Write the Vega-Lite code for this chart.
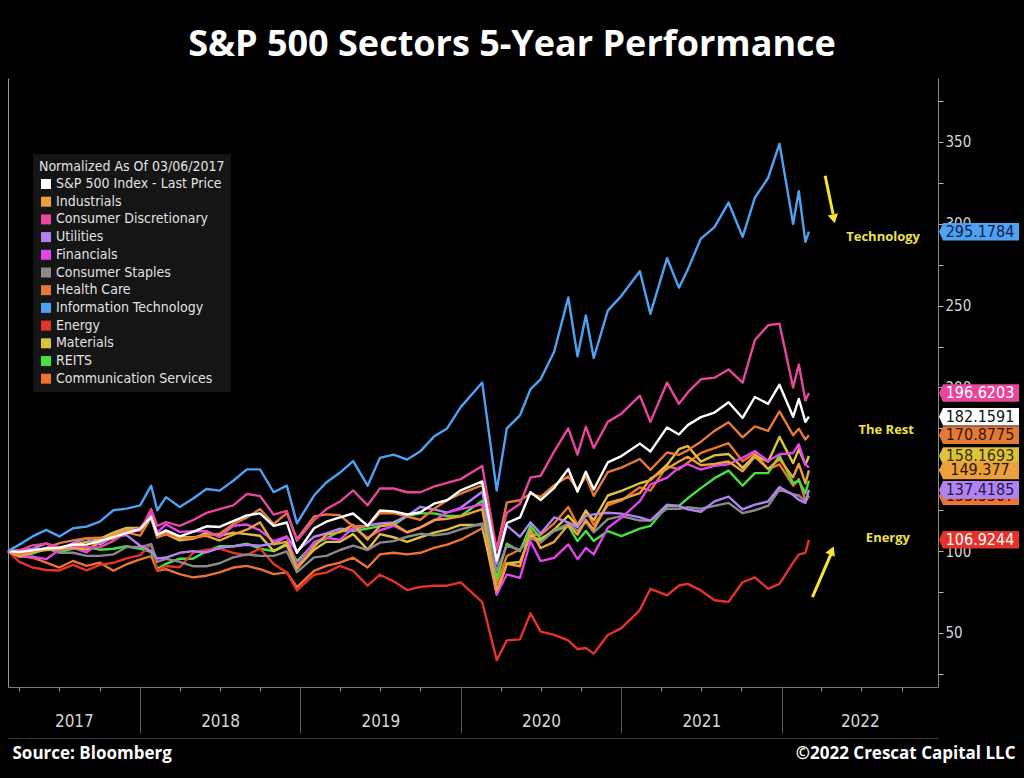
{
"$schema": "https://vega.github.io/schema/vega-lite/v6.json",
"width": 930, "height": 609,
"autosize": {"type": "none"},
"padding": {"left": 8, "top": 78, "right": 86, "bottom": 91},
"background": "#000000",
"title": {"text": "S&P 500 Sectors 5-Year Performance", "font": "Open Sans", "fontWeight": "bold", "fontSize": 36, "color": "#ffffff", "anchor": "middle", "frame": "group", "dx": 39, "dy": 35, "offset": 21, "baseline": "alphabetic"},
"config": {
 "view": {"stroke": null},
 "axis": {"grid": false},
 "legend": {"labelFont": "DejaVu Sans Condensed, Liberation Sans, sans-serif", "labelFontSize": 14, "labelColor": "#e2e2e2", "titleFont": "DejaVu Sans Condensed, Liberation Sans, sans-serif", "titleFontSize": 14, "titleFontWeight": "normal", "titleColor": "#e2e2e2", "fillColor": "#151515", "padding": 6, "rowPadding": 3.7, "symbolSize": 100, "symbolType": "square", "symbolStrokeWidth": 0, "labelLimit": 300, "titleLimit": 400, "titlePadding": 3, "labelOffset": 3}
},
"datasets": {
 "names": [{"k":"SPX","name":"S&P 500 Index - Last Price"},{"k":"IND","name":"Industrials"},{"k":"CD","name":"Consumer Discretionary"},{"k":"UTL","name":"Utilities"},{"k":"FIN","name":"Financials"},{"k":"CS","name":"Consumer Staples"},{"k":"HC","name":"Health Care"},{"k":"IT","name":"Information Technology"},{"k":"EN","name":"Energy"},{"k":"MAT","name":"Materials"},{"k":"RE","name":"REITS"},{"k":"CM","name":"Communication Services"}],
 "tags": [
  {"name":"Health Care","v":170.8775,"label":"170.8775"},
  {"name":"Materials","v":158.1693,"label":"158.1693"},
  {"name":"Communication Services","v":133.5307,"label":"133.5307"},
  {"name":"S&P 500 Index - Last Price","v":182.1591,"label":"182.1591"},
  {"name":"Industrials","v":149.377,"label":"149.377"},
  {"name":"Utilities","v":137.4185,"label":"137.4185"},
  {"name":"Consumer Discretionary","v":196.6203,"label":"196.6203"},
  {"name":"Information Technology","v":295.1784,"label":"295.1784"},
  {"name":"Energy","v":106.9244,"label":"106.9244"}
 ],
 "notes": [{"d":"2022-08-20","v":292,"t":"Technology"},{"d":"2022-08-27","v":174,"t":"The Rest"},{"d":"2022-08-31","v":108,"t":"Energy"}],
 "arrows": [{"d":"2022-04-10","v":329.4,"d2":"2022-04-28","v2":306},{"d":"2022-03-12","v":71.9,"d2":"2022-04-23","v2":98}],
 "head1": [{"d":"2022-04-29","v":304}],
 "head2": [{"d":"2022-04-24","v":99.5}],
 "series": [
{"d":"2017-03-06","k":"CM","v":100},{"d":"2017-04-01","k":"CM","v":97},{"d":"2017-05-01","k":"CM","v":96},{"d":"2017-06-01","k":"CM","v":93},{"d":"2017-07-01","k":"CM","v":90},{"d":"2017-08-01","k":"CM","v":94},{"d":"2017-09-01","k":"CM","v":91},{"d":"2017-10-01","k":"CM","v":93},{"d":"2017-11-01","k":"CM","v":88},{"d":"2017-12-01","k":"CM","v":92},
{"d":"2018-01-01","k":"CM","v":95},{"d":"2018-01-26","k":"CM","v":97},{"d":"2018-02-09","k":"CM","v":88},{"d":"2018-03-01","k":"CM","v":89},{"d":"2018-04-01","k":"CM","v":86},{"d":"2018-05-01","k":"CM","v":84},{"d":"2018-06-01","k":"CM","v":85},{"d":"2018-07-01","k":"CM","v":87},{"d":"2018-08-01","k":"CM","v":90},{"d":"2018-09-01","k":"CM","v":91},{"d":"2018-10-01","k":"CM","v":89},{"d":"2018-11-01","k":"CM","v":86},{"d":"2018-12-01","k":"CM","v":87},{"d":"2018-12-24","k":"CM","v":78},
{"d":"2019-02-01","k":"CM","v":88},{"d":"2019-03-01","k":"CM","v":91},{"d":"2019-04-01","k":"CM","v":93},{"d":"2019-05-01","k":"CM","v":96},{"d":"2019-06-03","k":"CM","v":90},{"d":"2019-07-01","k":"CM","v":98},{"d":"2019-08-01","k":"CM","v":99},{"d":"2019-09-01","k":"CM","v":98},{"d":"2019-10-01","k":"CM","v":99},{"d":"2019-11-01","k":"CM","v":102},{"d":"2019-12-01","k":"CM","v":104},
{"d":"2020-01-01","k":"CM","v":107},{"d":"2020-02-19","k":"CM","v":114},{"d":"2020-03-23","k":"CM","v":80},{"d":"2020-04-15","k":"CM","v":97},{"d":"2020-05-15","k":"CM","v":101},{"d":"2020-06-08","k":"CM","v":110},{"d":"2020-07-01","k":"CM","v":110},{"d":"2020-08-01","k":"CM","v":117},{"d":"2020-09-02","k":"CM","v":127},{"d":"2020-09-23","k":"CM","v":116},{"d":"2020-10-12","k":"CM","v":125},{"d":"2020-10-30","k":"CM","v":116},{"d":"2020-12-01","k":"CM","v":128},
{"d":"2021-01-01","k":"CM","v":131},{"d":"2021-02-12","k":"CM","v":139},{"d":"2021-03-08","k":"CM","v":137},{"d":"2021-04-15","k":"CM","v":152},{"d":"2021-05-12","k":"CM","v":150},{"d":"2021-06-01","k":"CM","v":154},{"d":"2021-07-01","k":"CM","v":160},{"d":"2021-08-01","k":"CM","v":163},{"d":"2021-09-02","k":"CM","v":166},{"d":"2021-10-04","k":"CM","v":155},{"d":"2021-11-01","k":"CM","v":160},{"d":"2021-12-01","k":"CM","v":150},{"d":"2021-12-27","k":"CM","v":153},
{"d":"2022-01-27","k":"CM","v":140},{"d":"2022-02-09","k":"CM","v":144},{"d":"2022-02-24","k":"CM","v":131},{"d":"2022-03-04","k":"CM","v":133.53},

{"d":"2017-03-06","k":"RE","v":100},{"d":"2017-04-01","k":"RE","v":97},{"d":"2017-05-01","k":"RE","v":98.5},{"d":"2017-06-01","k":"RE","v":101.5},{"d":"2017-07-01","k":"RE","v":99.4},{"d":"2017-08-01","k":"RE","v":101.5},{"d":"2017-09-01","k":"RE","v":102.5},{"d":"2017-10-01","k":"RE","v":100.9},{"d":"2017-11-01","k":"RE","v":101.5},{"d":"2017-12-01","k":"RE","v":103},
{"d":"2018-01-01","k":"RE","v":101.5},{"d":"2018-01-26","k":"RE","v":99.4},{"d":"2018-02-09","k":"RE","v":89.2},{"d":"2018-03-01","k":"RE","v":92.3},{"d":"2018-04-01","k":"RE","v":95.4},{"d":"2018-05-01","k":"RE","v":95.4},{"d":"2018-06-01","k":"RE","v":100},{"d":"2018-07-01","k":"RE","v":103},{"d":"2018-08-01","k":"RE","v":103},{"d":"2018-09-01","k":"RE","v":104.6},{"d":"2018-10-01","k":"RE","v":101.5},{"d":"2018-11-01","k":"RE","v":100},{"d":"2018-12-01","k":"RE","v":104.6},{"d":"2018-12-24","k":"RE","v":93.8},
{"d":"2019-02-01","k":"RE","v":104.6},{"d":"2019-03-01","k":"RE","v":107.7},{"d":"2019-04-01","k":"RE","v":112.3},{"d":"2019-05-01","k":"RE","v":112.3},{"d":"2019-06-03","k":"RE","v":113.8},{"d":"2019-07-01","k":"RE","v":115.4},{"d":"2019-08-01","k":"RE","v":116},{"d":"2019-09-01","k":"RE","v":121.5},{"d":"2019-10-01","k":"RE","v":123.1},{"d":"2019-11-01","k":"RE","v":123.1},{"d":"2019-12-01","k":"RE","v":121.5},
{"d":"2020-01-01","k":"RE","v":121.5},{"d":"2020-02-19","k":"RE","v":130.8},{"d":"2020-03-23","k":"RE","v":83.1},{"d":"2020-04-15","k":"RE","v":104.6},{"d":"2020-05-15","k":"RE","v":100},{"d":"2020-06-08","k":"RE","v":115.4},{"d":"2020-07-01","k":"RE","v":107.7},{"d":"2020-08-01","k":"RE","v":112.3},{"d":"2020-09-02","k":"RE","v":115.4},{"d":"2020-09-23","k":"RE","v":106.2},{"d":"2020-10-12","k":"RE","v":112.3},{"d":"2020-10-30","k":"RE","v":106.2},{"d":"2020-12-01","k":"RE","v":112.3},
{"d":"2021-01-01","k":"RE","v":109.2},{"d":"2021-02-12","k":"RE","v":113.8},{"d":"2021-03-08","k":"RE","v":115.4},{"d":"2021-04-15","k":"RE","v":127.7},{"d":"2021-05-12","k":"RE","v":127.7},{"d":"2021-06-01","k":"RE","v":132.3},{"d":"2021-07-01","k":"RE","v":138.5},{"d":"2021-08-01","k":"RE","v":144.6},{"d":"2021-09-02","k":"RE","v":149.2},{"d":"2021-10-04","k":"RE","v":140},{"d":"2021-11-01","k":"RE","v":147.7},{"d":"2021-12-01","k":"RE","v":147.7},{"d":"2021-12-27","k":"RE","v":158.5},
{"d":"2022-01-27","k":"RE","v":141.5},{"d":"2022-02-09","k":"RE","v":143},{"d":"2022-02-24","k":"RE","v":135.4},{"d":"2022-03-04","k":"RE","v":143},

{"d":"2017-03-06","k":"MAT","v":100},{"d":"2017-04-01","k":"MAT","v":98.9},{"d":"2017-05-01","k":"MAT","v":100.9},{"d":"2017-06-01","k":"MAT","v":101.3},{"d":"2017-07-01","k":"MAT","v":101.5},{"d":"2017-08-01","k":"MAT","v":103.8},{"d":"2017-09-01","k":"MAT","v":105.7},{"d":"2017-10-01","k":"MAT","v":107.5},{"d":"2017-11-01","k":"MAT","v":111.3},{"d":"2017-12-01","k":"MAT","v":114.2},
{"d":"2018-01-01","k":"MAT","v":114.2},{"d":"2018-01-26","k":"MAT","v":120.8},{"d":"2018-02-09","k":"MAT","v":108.5},{"d":"2018-03-01","k":"MAT","v":110.4},{"d":"2018-04-01","k":"MAT","v":106.6},{"d":"2018-05-01","k":"MAT","v":107.5},{"d":"2018-06-01","k":"MAT","v":111.3},{"d":"2018-07-01","k":"MAT","v":109.4},{"d":"2018-08-01","k":"MAT","v":111.3},{"d":"2018-09-01","k":"MAT","v":110.4},{"d":"2018-10-01","k":"MAT","v":109.4},{"d":"2018-11-01","k":"MAT","v":100},{"d":"2018-12-01","k":"MAT","v":103.8},{"d":"2018-12-24","k":"MAT","v":89.6},
{"d":"2019-02-01","k":"MAT","v":100.9},{"d":"2019-03-01","k":"MAT","v":105.7},{"d":"2019-04-01","k":"MAT","v":105.7},{"d":"2019-05-01","k":"MAT","v":110.4},{"d":"2019-06-03","k":"MAT","v":100.9},{"d":"2019-07-01","k":"MAT","v":110.4},{"d":"2019-08-01","k":"MAT","v":108.5},{"d":"2019-09-01","k":"MAT","v":105.7},{"d":"2019-10-01","k":"MAT","v":108.5},{"d":"2019-11-01","k":"MAT","v":111.3},{"d":"2019-12-01","k":"MAT","v":113.2},
{"d":"2020-01-01","k":"MAT","v":116},{"d":"2020-02-19","k":"MAT","v":116},{"d":"2020-03-23","k":"MAT","v":73.6},{"d":"2020-04-15","k":"MAT","v":92.5},{"d":"2020-05-15","k":"MAT","v":93.4},{"d":"2020-06-08","k":"MAT","v":109.4},{"d":"2020-07-01","k":"MAT","v":106.6},{"d":"2020-08-01","k":"MAT","v":113.2},{"d":"2020-09-02","k":"MAT","v":121.7},{"d":"2020-09-23","k":"MAT","v":115.1},{"d":"2020-10-12","k":"MAT","v":124.5},{"d":"2020-10-30","k":"MAT","v":118.9},{"d":"2020-12-01","k":"MAT","v":134},
{"d":"2021-01-01","k":"MAT","v":136.8},{"d":"2021-02-12","k":"MAT","v":141.5},{"d":"2021-03-08","k":"MAT","v":143.4},{"d":"2021-04-15","k":"MAT","v":152.8},{"d":"2021-05-12","k":"MAT","v":162.3},{"d":"2021-06-01","k":"MAT","v":164.2},{"d":"2021-07-01","k":"MAT","v":154.7},{"d":"2021-08-01","k":"MAT","v":158.5},{"d":"2021-09-02","k":"MAT","v":159.4},{"d":"2021-10-04","k":"MAT","v":150.9},{"d":"2021-11-01","k":"MAT","v":158.5},{"d":"2021-12-01","k":"MAT","v":154.7},{"d":"2021-12-27","k":"MAT","v":169.8},
{"d":"2022-01-27","k":"MAT","v":153.8},{"d":"2022-02-09","k":"MAT","v":162.3},{"d":"2022-02-24","k":"MAT","v":152.8},{"d":"2022-03-04","k":"MAT","v":158.17},

{"d":"2017-03-06","k":"EN","v":100},{"d":"2017-04-01","k":"EN","v":93.5},{"d":"2017-05-01","k":"EN","v":90},{"d":"2017-06-01","k":"EN","v":88.5},{"d":"2017-07-01","k":"EN","v":88.2},{"d":"2017-08-01","k":"EN","v":91.6},{"d":"2017-09-01","k":"EN","v":88.2},{"d":"2017-10-01","k":"EN","v":91.6},{"d":"2017-11-01","k":"EN","v":92.9},{"d":"2017-12-01","k":"EN","v":95.6},
{"d":"2018-01-01","k":"EN","v":97.6},{"d":"2018-01-26","k":"EN","v":104.3},{"d":"2018-02-09","k":"EN","v":88.2},{"d":"2018-03-01","k":"EN","v":90.9},{"d":"2018-04-01","k":"EN","v":90.2},{"d":"2018-05-01","k":"EN","v":98.9},{"d":"2018-06-01","k":"EN","v":100.9},{"d":"2018-07-01","k":"EN","v":101.6},{"d":"2018-08-01","k":"EN","v":98.9},{"d":"2018-09-01","k":"EN","v":97.6},{"d":"2018-10-01","k":"EN","v":101.6},{"d":"2018-11-01","k":"EN","v":92.2},{"d":"2018-12-01","k":"EN","v":86.9},{"d":"2018-12-24","k":"EN","v":76},
{"d":"2019-02-01","k":"EN","v":85.6},{"d":"2019-03-01","k":"EN","v":86.9},{"d":"2019-04-01","k":"EN","v":91},{"d":"2019-05-01","k":"EN","v":88},{"d":"2019-06-03","k":"EN","v":78.9},{"d":"2019-07-01","k":"EN","v":85.6},{"d":"2019-08-01","k":"EN","v":81.6},{"d":"2019-09-01","k":"EN","v":76.2},{"d":"2019-10-01","k":"EN","v":78.2},{"d":"2019-11-01","k":"EN","v":78.9},{"d":"2019-12-01","k":"EN","v":78.9},
{"d":"2020-01-01","k":"EN","v":80.9},{"d":"2020-02-19","k":"EN","v":68.9},{"d":"2020-03-23","k":"EN","v":33.4},{"d":"2020-04-15","k":"EN","v":45.5},{"d":"2020-05-15","k":"EN","v":46.1},{"d":"2020-06-08","k":"EN","v":62},{"d":"2020-07-01","k":"EN","v":50.8},{"d":"2020-08-01","k":"EN","v":48.8},{"d":"2020-09-02","k":"EN","v":45.5},{"d":"2020-09-23","k":"EN","v":40.1},{"d":"2020-10-12","k":"EN","v":40.8},{"d":"2020-10-30","k":"EN","v":37.4},{"d":"2020-12-01","k":"EN","v":48.8},
{"d":"2021-01-01","k":"EN","v":53},{"d":"2021-02-12","k":"EN","v":64},{"d":"2021-03-08","k":"EN","v":77},{"d":"2021-04-15","k":"EN","v":73},{"d":"2021-05-12","k":"EN","v":79},{"d":"2021-06-01","k":"EN","v":80},{"d":"2021-07-01","k":"EN","v":76},{"d":"2021-08-01","k":"EN","v":70},{"d":"2021-09-02","k":"EN","v":69},{"d":"2021-10-04","k":"EN","v":81},{"d":"2021-11-01","k":"EN","v":84},{"d":"2021-12-01","k":"EN","v":77},{"d":"2021-12-27","k":"EN","v":80},
{"d":"2022-01-27","k":"EN","v":93},{"d":"2022-02-09","k":"EN","v":98},{"d":"2022-02-24","k":"EN","v":99},{"d":"2022-03-04","k":"EN","v":106.92},

{"d":"2017-03-06","k":"CS","v":100},{"d":"2017-04-01","k":"CS","v":98.2},{"d":"2017-05-01","k":"CS","v":99.3},{"d":"2017-06-01","k":"CS","v":102},{"d":"2017-07-01","k":"CS","v":99},{"d":"2017-08-01","k":"CS","v":99},{"d":"2017-09-01","k":"CS","v":97.1},{"d":"2017-10-01","k":"CS","v":97.1},{"d":"2017-11-01","k":"CS","v":98},{"d":"2017-12-01","k":"CS","v":102.5},
{"d":"2018-01-01","k":"CS","v":102.5},{"d":"2018-01-26","k":"CS","v":104.3},{"d":"2018-02-09","k":"CS","v":93.5},{"d":"2018-03-01","k":"CS","v":95.3},{"d":"2018-04-01","k":"CS","v":93.5},{"d":"2018-05-01","k":"CS","v":90.8},{"d":"2018-06-01","k":"CS","v":90.8},{"d":"2018-07-01","k":"CS","v":92.6},{"d":"2018-08-01","k":"CS","v":96.2},{"d":"2018-09-01","k":"CS","v":98},{"d":"2018-10-01","k":"CS","v":97.1},{"d":"2018-11-01","k":"CS","v":97.1},{"d":"2018-12-01","k":"CS","v":99.8},{"d":"2018-12-24","k":"CS","v":87.2},
{"d":"2019-02-01","k":"CS","v":96.2},{"d":"2019-03-01","k":"CS","v":97.1},{"d":"2019-04-01","k":"CS","v":100.7},{"d":"2019-05-01","k":"CS","v":103.4},{"d":"2019-06-03","k":"CS","v":100.7},{"d":"2019-07-01","k":"CS","v":105.2},{"d":"2019-08-01","k":"CS","v":106.1},{"d":"2019-09-01","k":"CS","v":108.8},{"d":"2019-10-01","k":"CS","v":110.6},{"d":"2019-11-01","k":"CS","v":109.7},{"d":"2019-12-01","k":"CS","v":110.6},
{"d":"2020-01-01","k":"CS","v":113.3},{"d":"2020-02-19","k":"CS","v":116.9},{"d":"2020-03-23","k":"CS","v":88.1},{"d":"2020-04-15","k":"CS","v":103.4},{"d":"2020-05-15","k":"CS","v":100.7},{"d":"2020-06-08","k":"CS","v":107.9},{"d":"2020-07-01","k":"CS","v":105.2},{"d":"2020-08-01","k":"CS","v":112.4},{"d":"2020-09-02","k":"CS","v":116.9},{"d":"2020-09-23","k":"CS","v":112.4},{"d":"2020-10-12","k":"CS","v":117.8},{"d":"2020-10-30","k":"CS","v":111.5},{"d":"2020-12-01","k":"CS","v":119.6},
{"d":"2021-01-01","k":"CS","v":121.4},{"d":"2021-02-12","k":"CS","v":118.7},{"d":"2021-03-08","k":"CS","v":118.7},{"d":"2021-04-15","k":"CS","v":125.9},{"d":"2021-05-12","k":"CS","v":125.9},{"d":"2021-06-01","k":"CS","v":126.8},{"d":"2021-07-01","k":"CS","v":125.9},{"d":"2021-08-01","k":"CS","v":127.7},{"d":"2021-09-02","k":"CS","v":129.5},{"d":"2021-10-04","k":"CS","v":123.2},{"d":"2021-11-01","k":"CS","v":125},{"d":"2021-12-01","k":"CS","v":127.7},{"d":"2021-12-27","k":"CS","v":137.6},
{"d":"2022-01-27","k":"CS","v":134.9},{"d":"2022-02-09","k":"CS","v":134},{"d":"2022-02-24","k":"CS","v":130.4},{"d":"2022-03-04","k":"CS","v":134},

{"d":"2017-03-06","k":"UTL","v":100},{"d":"2017-04-01","k":"UTL","v":100.6},{"d":"2017-05-01","k":"UTL","v":101.4},{"d":"2017-06-01","k":"UTL","v":104.7},{"d":"2017-07-01","k":"UTL","v":101.4},{"d":"2017-08-01","k":"UTL","v":104.9},{"d":"2017-09-01","k":"UTL","v":107.8},{"d":"2017-10-01","k":"UTL","v":103.9},{"d":"2017-11-01","k":"UTL","v":108.8},{"d":"2017-12-01","k":"UTL","v":109.8},
{"d":"2018-01-01","k":"UTL","v":103.3},{"d":"2018-01-26","k":"UTL","v":100},{"d":"2018-02-09","k":"UTL","v":95.5},{"d":"2018-03-01","k":"UTL","v":96.1},{"d":"2018-04-01","k":"UTL","v":99},{"d":"2018-05-01","k":"UTL","v":100},{"d":"2018-06-01","k":"UTL","v":99.2},{"d":"2018-07-01","k":"UTL","v":102},{"d":"2018-08-01","k":"UTL","v":102.9},{"d":"2018-09-01","k":"UTL","v":103.9},{"d":"2018-10-01","k":"UTL","v":103.3},{"d":"2018-11-01","k":"UTL","v":104.5},{"d":"2018-12-01","k":"UTL","v":108.8},{"d":"2018-12-24","k":"UTL","v":100},
{"d":"2019-02-01","k":"UTL","v":108.8},{"d":"2019-03-01","k":"UTL","v":110.8},{"d":"2019-04-01","k":"UTL","v":113.7},{"d":"2019-05-01","k":"UTL","v":113.1},{"d":"2019-06-03","k":"UTL","v":115.7},{"d":"2019-07-01","k":"UTL","v":116.9},{"d":"2019-08-01","k":"UTL","v":117.6},{"d":"2019-09-01","k":"UTL","v":121.6},{"d":"2019-10-01","k":"UTL","v":127.1},{"d":"2019-11-01","k":"UTL","v":125.5},{"d":"2019-12-01","k":"UTL","v":123.5},
{"d":"2020-01-01","k":"UTL","v":126.5},{"d":"2020-02-19","k":"UTL","v":136.3},{"d":"2020-03-23","k":"UTL","v":92.2},{"d":"2020-04-15","k":"UTL","v":115.7},{"d":"2020-05-15","k":"UTL","v":108.8},{"d":"2020-06-08","k":"UTL","v":117.6},{"d":"2020-07-01","k":"UTL","v":110.8},{"d":"2020-08-01","k":"UTL","v":120.6},{"d":"2020-09-02","k":"UTL","v":117.6},{"d":"2020-09-23","k":"UTL","v":114.7},{"d":"2020-10-12","k":"UTL","v":121.6},{"d":"2020-10-30","k":"UTL","v":122.5},{"d":"2020-12-01","k":"UTL","v":123.5},
{"d":"2021-01-01","k":"UTL","v":122.9},{"d":"2021-02-12","k":"UTL","v":120.6},{"d":"2021-03-08","k":"UTL","v":118.6},{"d":"2021-04-15","k":"UTL","v":128.4},{"d":"2021-05-12","k":"UTL","v":127.5},{"d":"2021-06-01","k":"UTL","v":125.5},{"d":"2021-07-01","k":"UTL","v":124.1},{"d":"2021-08-01","k":"UTL","v":130.4},{"d":"2021-09-02","k":"UTL","v":133.3},{"d":"2021-10-04","k":"UTL","v":125.5},{"d":"2021-11-01","k":"UTL","v":128.4},{"d":"2021-12-01","k":"UTL","v":130.4},{"d":"2021-12-27","k":"UTL","v":139.2},
{"d":"2022-01-27","k":"UTL","v":134.3},{"d":"2022-02-09","k":"UTL","v":131.4},{"d":"2022-02-24","k":"UTL","v":129.4},{"d":"2022-03-04","k":"UTL","v":137.42},

{"d":"2017-03-06","k":"FIN","v":100},{"d":"2017-04-01","k":"FIN","v":96.7},{"d":"2017-05-01","k":"FIN","v":96.7},{"d":"2017-06-01","k":"FIN","v":95.1},{"d":"2017-07-01","k":"FIN","v":100.8},{"d":"2017-08-01","k":"FIN","v":102},{"d":"2017-09-01","k":"FIN","v":99.2},{"d":"2017-10-01","k":"FIN","v":105.7},{"d":"2017-11-01","k":"FIN","v":108.6},{"d":"2017-12-01","k":"FIN","v":112.2},
{"d":"2018-01-01","k":"FIN","v":113.9},{"d":"2018-01-26","k":"FIN","v":123.3},{"d":"2018-02-09","k":"FIN","v":111.4},{"d":"2018-03-01","k":"FIN","v":116.3},{"d":"2018-04-01","k":"FIN","v":111.8},{"d":"2018-05-01","k":"FIN","v":112.2},{"d":"2018-06-01","k":"FIN","v":112.2},{"d":"2018-07-01","k":"FIN","v":108.6},{"d":"2018-08-01","k":"FIN","v":115.5},{"d":"2018-09-01","k":"FIN","v":116.3},{"d":"2018-10-01","k":"FIN","v":112.7},{"d":"2018-11-01","k":"FIN","v":106.1},{"d":"2018-12-01","k":"FIN","v":109},{"d":"2018-12-24","k":"FIN","v":91},
{"d":"2019-02-01","k":"FIN","v":105.7},{"d":"2019-03-01","k":"FIN","v":108.2},{"d":"2019-04-01","k":"FIN","v":106.9},{"d":"2019-05-01","k":"FIN","v":114.3},{"d":"2019-06-03","k":"FIN","v":108.2},{"d":"2019-07-01","k":"FIN","v":112.7},{"d":"2019-08-01","k":"FIN","v":115.5},{"d":"2019-09-01","k":"FIN","v":111.4},{"d":"2019-10-01","k":"FIN","v":114.3},{"d":"2019-11-01","k":"FIN","v":118.4},{"d":"2019-12-01","k":"FIN","v":123.7},
{"d":"2020-01-01","k":"FIN","v":125.7},{"d":"2020-02-19","k":"FIN","v":128.6},{"d":"2020-03-23","k":"FIN","v":73.5},{"d":"2020-04-15","k":"FIN","v":85.7},{"d":"2020-05-15","k":"FIN","v":83.7},{"d":"2020-06-08","k":"FIN","v":106.1},{"d":"2020-07-01","k":"FIN","v":93.9},{"d":"2020-08-01","k":"FIN","v":95.9},{"d":"2020-09-02","k":"FIN","v":104.1},{"d":"2020-09-23","k":"FIN","v":95.1},{"d":"2020-10-12","k":"FIN","v":102},{"d":"2020-10-30","k":"FIN","v":98},{"d":"2020-12-01","k":"FIN","v":114.3},
{"d":"2021-01-01","k":"FIN","v":120.4},{"d":"2021-02-12","k":"FIN","v":130.6},{"d":"2021-03-08","k":"FIN","v":140.8},{"d":"2021-04-15","k":"FIN","v":144.9},{"d":"2021-05-12","k":"FIN","v":151},{"d":"2021-06-01","k":"FIN","v":153.1},{"d":"2021-07-01","k":"FIN","v":149.8},{"d":"2021-08-01","k":"FIN","v":152.2},{"d":"2021-09-02","k":"FIN","v":153.1},{"d":"2021-10-04","k":"FIN","v":157.1},{"d":"2021-11-01","k":"FIN","v":161.2},{"d":"2021-12-01","k":"FIN","v":155.1},{"d":"2021-12-27","k":"FIN","v":159.2},
{"d":"2022-01-27","k":"FIN","v":160},{"d":"2022-02-09","k":"FIN","v":165.3},{"d":"2022-02-24","k":"FIN","v":153.1},{"d":"2022-03-04","k":"FIN","v":151},

{"d":"2017-03-06","k":"IND","v":100},{"d":"2017-04-01","k":"IND","v":96.7},{"d":"2017-05-01","k":"IND","v":99.4},{"d":"2017-06-01","k":"IND","v":100.7},{"d":"2017-07-01","k":"IND","v":101.2},{"d":"2017-08-01","k":"IND","v":102.2},{"d":"2017-09-01","k":"IND","v":100.9},{"d":"2017-10-01","k":"IND","v":105.7},{"d":"2017-11-01","k":"IND","v":110.1},{"d":"2017-12-01","k":"IND","v":113.1},
{"d":"2018-01-01","k":"IND","v":112.6},{"d":"2018-01-26","k":"IND","v":120.2},{"d":"2018-02-09","k":"IND","v":108.6},{"d":"2018-03-01","k":"IND","v":111.6},{"d":"2018-04-01","k":"IND","v":108.6},{"d":"2018-05-01","k":"IND","v":108.6},{"d":"2018-06-01","k":"IND","v":109.4},{"d":"2018-07-01","k":"IND","v":106.5},{"d":"2018-08-01","k":"IND","v":110.1},{"d":"2018-09-01","k":"IND","v":113.1},{"d":"2018-10-01","k":"IND","v":117.6},{"d":"2018-11-01","k":"IND","v":104.2},{"d":"2018-12-01","k":"IND","v":105.7},{"d":"2018-12-24","k":"IND","v":89.3},
{"d":"2019-02-01","k":"IND","v":102.7},{"d":"2019-03-01","k":"IND","v":110.1},{"d":"2019-04-01","k":"IND","v":111.6},{"d":"2019-05-01","k":"IND","v":116.1},{"d":"2019-06-03","k":"IND","v":107.1},{"d":"2019-07-01","k":"IND","v":115.3},{"d":"2019-08-01","k":"IND","v":116.8},{"d":"2019-09-01","k":"IND","v":111.6},{"d":"2019-10-01","k":"IND","v":114.6},{"d":"2019-11-01","k":"IND","v":119},{"d":"2019-12-01","k":"IND","v":119.8},
{"d":"2020-01-01","k":"IND","v":121.3},{"d":"2020-02-19","k":"IND","v":125.7},{"d":"2020-03-23","k":"IND","v":75.9},{"d":"2020-04-15","k":"IND","v":92.3},{"d":"2020-05-15","k":"IND","v":90.8},{"d":"2020-06-08","k":"IND","v":113.1},{"d":"2020-07-01","k":"IND","v":101.9},{"d":"2020-08-01","k":"IND","v":105.7},{"d":"2020-09-02","k":"IND","v":116.1},{"d":"2020-09-23","k":"IND","v":110.1},{"d":"2020-10-12","k":"IND","v":119},{"d":"2020-10-30","k":"IND","v":113.1},{"d":"2020-12-01","k":"IND","v":129.5},
{"d":"2021-01-01","k":"IND","v":131.7},{"d":"2021-02-12","k":"IND","v":135.4},{"d":"2021-03-08","k":"IND","v":144.3},{"d":"2021-04-15","k":"IND","v":150.3},{"d":"2021-05-12","k":"IND","v":154.8},{"d":"2021-06-01","k":"IND","v":157.7},{"d":"2021-07-01","k":"IND","v":152.5},{"d":"2021-08-01","k":"IND","v":153.3},{"d":"2021-09-02","k":"IND","v":154.8},{"d":"2021-10-04","k":"IND","v":148.8},{"d":"2021-11-01","k":"IND","v":157.7},{"d":"2021-12-01","k":"IND","v":150.3},{"d":"2021-12-27","k":"IND","v":156.3},
{"d":"2022-01-27","k":"IND","v":145.1},{"d":"2022-02-09","k":"IND","v":153.3},{"d":"2022-02-24","k":"IND","v":141.4},{"d":"2022-03-04","k":"IND","v":149.38},

{"d":"2017-03-06","k":"HC","v":100},{"d":"2017-04-01","k":"HC","v":98.5},{"d":"2017-05-01","k":"HC","v":100},{"d":"2017-06-01","k":"HC","v":102},{"d":"2017-07-01","k":"HC","v":104.9},{"d":"2017-08-01","k":"HC","v":106.6},{"d":"2017-09-01","k":"HC","v":107.9},{"d":"2017-10-01","k":"HC","v":108.2},{"d":"2017-11-01","k":"HC","v":107.3},{"d":"2017-12-01","k":"HC","v":111.3},
{"d":"2018-01-01","k":"HC","v":109.5},{"d":"2018-01-26","k":"HC","v":120.5},{"d":"2018-02-09","k":"HC","v":108.6},{"d":"2018-03-01","k":"HC","v":110.6},{"d":"2018-04-01","k":"HC","v":107.9},{"d":"2018-05-01","k":"HC","v":107.9},{"d":"2018-06-01","k":"HC","v":109.9},{"d":"2018-07-01","k":"HC","v":110.6},{"d":"2018-08-01","k":"HC","v":116.6},{"d":"2018-09-01","k":"HC","v":120.5},{"d":"2018-10-01","k":"HC","v":125.8},{"d":"2018-11-01","k":"HC","v":116.6},{"d":"2018-12-01","k":"HC","v":123.2},{"d":"2018-12-24","k":"HC","v":107.3},
{"d":"2019-02-01","k":"HC","v":121.2},{"d":"2019-03-01","k":"HC","v":122.5},{"d":"2019-04-01","k":"HC","v":121.9},{"d":"2019-05-01","k":"HC","v":115.2},{"d":"2019-06-03","k":"HC","v":115.2},{"d":"2019-07-01","k":"HC","v":123.2},{"d":"2019-08-01","k":"HC","v":123.2},{"d":"2019-09-01","k":"HC","v":121.2},{"d":"2019-10-01","k":"HC","v":119.2},{"d":"2019-11-01","k":"HC","v":125.8},{"d":"2019-12-01","k":"HC","v":131.1},
{"d":"2020-01-01","k":"HC","v":135.1},{"d":"2020-02-19","k":"HC","v":140.4},{"d":"2020-03-23","k":"HC","v":100.7},{"d":"2020-04-15","k":"HC","v":129.8},{"d":"2020-05-15","k":"HC","v":131.1},{"d":"2020-06-08","k":"HC","v":135.1},{"d":"2020-07-01","k":"HC","v":133.1},{"d":"2020-08-01","k":"HC","v":140.4},{"d":"2020-09-02","k":"HC","v":145.7},{"d":"2020-09-23","k":"HC","v":137.7},{"d":"2020-10-12","k":"HC","v":145.7},{"d":"2020-10-30","k":"HC","v":133.8},{"d":"2020-12-01","k":"HC","v":148.3},
{"d":"2021-01-01","k":"HC","v":151},{"d":"2021-02-12","k":"HC","v":156.3},{"d":"2021-03-08","k":"HC","v":149.7},{"d":"2021-04-15","k":"HC","v":160.3},{"d":"2021-05-12","k":"HC","v":158.9},{"d":"2021-06-01","k":"HC","v":161.6},{"d":"2021-07-01","k":"HC","v":166.9},{"d":"2021-08-01","k":"HC","v":173.5},{"d":"2021-09-02","k":"HC","v":178.8},{"d":"2021-10-04","k":"HC","v":169.5},{"d":"2021-11-01","k":"HC","v":176.2},{"d":"2021-12-01","k":"HC","v":173.5},{"d":"2021-12-27","k":"HC","v":185.4},
{"d":"2022-01-27","k":"HC","v":170.9},{"d":"2022-02-09","k":"HC","v":174.8},{"d":"2022-02-24","k":"HC","v":168.2},{"d":"2022-03-04","k":"HC","v":170.88},

{"d":"2017-03-06","k":"CD","v":100},{"d":"2017-04-01","k":"CD","v":100.5},{"d":"2017-05-01","k":"CD","v":103.5},{"d":"2017-06-01","k":"CD","v":104.6},{"d":"2017-07-01","k":"CD","v":102.4},{"d":"2017-08-01","k":"CD","v":103.4},{"d":"2017-09-01","k":"CD","v":102.6},{"d":"2017-10-01","k":"CD","v":102.3},{"d":"2017-11-01","k":"CD","v":106.3},{"d":"2017-12-01","k":"CD","v":111.4},
{"d":"2018-01-01","k":"CD","v":112.8},{"d":"2018-01-26","k":"CD","v":125.7},{"d":"2018-02-09","k":"CD","v":115.4},{"d":"2018-03-01","k":"CD","v":117.7},{"d":"2018-04-01","k":"CD","v":115.4},{"d":"2018-05-01","k":"CD","v":118.9},{"d":"2018-06-01","k":"CD","v":123.4},{"d":"2018-07-01","k":"CD","v":125.7},{"d":"2018-08-01","k":"CD","v":128},{"d":"2018-09-01","k":"CD","v":134.9},{"d":"2018-10-01","k":"CD","v":133.7},{"d":"2018-11-01","k":"CD","v":122.3},{"d":"2018-12-01","k":"CD","v":124.6},{"d":"2018-12-24","k":"CD","v":106.3},
{"d":"2019-02-01","k":"CD","v":118.9},{"d":"2019-03-01","k":"CD","v":125.7},{"d":"2019-04-01","k":"CD","v":130.3},{"d":"2019-05-01","k":"CD","v":137.1},{"d":"2019-06-03","k":"CD","v":128},{"d":"2019-07-01","k":"CD","v":138.3},{"d":"2019-08-01","k":"CD","v":138.3},{"d":"2019-09-01","k":"CD","v":136},{"d":"2019-10-01","k":"CD","v":136},{"d":"2019-11-01","k":"CD","v":139.4},{"d":"2019-12-01","k":"CD","v":141.7},
{"d":"2020-01-01","k":"CD","v":144},{"d":"2020-02-19","k":"CD","v":152},{"d":"2020-03-23","k":"CD","v":100.6},{"d":"2020-04-15","k":"CD","v":123.4},{"d":"2020-05-15","k":"CD","v":129},{"d":"2020-06-08","k":"CD","v":145},{"d":"2020-07-01","k":"CD","v":146},{"d":"2020-08-01","k":"CD","v":161},{"d":"2020-09-02","k":"CD","v":175},{"d":"2020-09-23","k":"CD","v":159},{"d":"2020-10-12","k":"CD","v":176},{"d":"2020-10-30","k":"CD","v":163},{"d":"2020-12-01","k":"CD","v":179},
{"d":"2021-01-01","k":"CD","v":184},{"d":"2021-02-12","k":"CD","v":195},{"d":"2021-03-08","k":"CD","v":179},{"d":"2021-04-15","k":"CD","v":203},{"d":"2021-05-12","k":"CD","v":190},{"d":"2021-06-01","k":"CD","v":197},{"d":"2021-07-01","k":"CD","v":205},{"d":"2021-08-01","k":"CD","v":206},{"d":"2021-09-02","k":"CD","v":211},{"d":"2021-10-04","k":"CD","v":203},{"d":"2021-11-01","k":"CD","v":229},{"d":"2021-12-01","k":"CD","v":238},{"d":"2021-12-27","k":"CD","v":239},
{"d":"2022-01-27","k":"CD","v":200},{"d":"2022-02-09","k":"CD","v":214},{"d":"2022-02-24","k":"CD","v":192},{"d":"2022-03-04","k":"CD","v":196.62},

{"d":"2017-03-06","k":"SPX","v":100},{"d":"2017-04-01","k":"SPX","v":99.5},{"d":"2017-05-01","k":"SPX","v":100.5},{"d":"2017-06-01","k":"SPX","v":101.7},{"d":"2017-07-01","k":"SPX","v":102.1},{"d":"2017-08-01","k":"SPX","v":103.9},{"d":"2017-09-01","k":"SPX","v":104},{"d":"2017-10-01","k":"SPX","v":106.2},{"d":"2017-11-01","k":"SPX","v":108.6},{"d":"2017-12-01","k":"SPX","v":111.1},
{"d":"2018-01-01","k":"SPX","v":113.5},{"d":"2018-01-26","k":"SPX","v":121},{"d":"2018-02-09","k":"SPX","v":110},{"d":"2018-03-01","k":"SPX","v":112.7},{"d":"2018-04-01","k":"SPX","v":109},{"d":"2018-05-01","k":"SPX","v":111.8},{"d":"2018-06-01","k":"SPX","v":115.2},{"d":"2018-07-01","k":"SPX","v":114.8},{"d":"2018-08-01","k":"SPX","v":118.4},{"d":"2018-09-01","k":"SPX","v":121.9},{"d":"2018-10-01","k":"SPX","v":123.1},{"d":"2018-11-01","k":"SPX","v":115.4},{"d":"2018-12-01","k":"SPX","v":117.5},{"d":"2018-12-24","k":"SPX","v":99},
{"d":"2019-02-01","k":"SPX","v":114},{"d":"2019-03-01","k":"SPX","v":118},{"d":"2019-04-01","k":"SPX","v":120.7},{"d":"2019-05-01","k":"SPX","v":123},{"d":"2019-06-03","k":"SPX","v":115.5},{"d":"2019-07-01","k":"SPX","v":124.8},{"d":"2019-08-01","k":"SPX","v":124.3},{"d":"2019-09-01","k":"SPX","v":122.4},{"d":"2019-10-01","k":"SPX","v":123.8},{"d":"2019-11-01","k":"SPX","v":129},{"d":"2019-12-01","k":"SPX","v":131.1},
{"d":"2020-01-01","k":"SPX","v":137.2},{"d":"2020-02-19","k":"SPX","v":142.6},{"d":"2020-03-23","k":"SPX","v":94.2},{"d":"2020-04-15","k":"SPX","v":117.2},{"d":"2020-05-15","k":"SPX","v":120.6},{"d":"2020-06-08","k":"SPX","v":136.1},{"d":"2020-07-01","k":"SPX","v":131.2},{"d":"2020-08-01","k":"SPX","v":138.7},{"d":"2020-09-02","k":"SPX","v":150.2},{"d":"2020-09-23","k":"SPX","v":136.3},{"d":"2020-10-12","k":"SPX","v":148.5},{"d":"2020-10-30","k":"SPX","v":137.7},{"d":"2020-12-01","k":"SPX","v":154.2},
{"d":"2021-01-01","k":"SPX","v":158.1},{"d":"2021-02-12","k":"SPX","v":165.7},{"d":"2021-03-08","k":"SPX","v":160.9},{"d":"2021-04-15","k":"SPX","v":175.6},{"d":"2021-05-12","k":"SPX","v":171.3},{"d":"2021-06-01","k":"SPX","v":177},{"d":"2021-07-01","k":"SPX","v":181.9},{"d":"2021-08-01","k":"SPX","v":184.7},{"d":"2021-09-02","k":"SPX","v":191},{"d":"2021-10-04","k":"SPX","v":181.4},{"d":"2021-11-01","k":"SPX","v":194.2},{"d":"2021-12-01","k":"SPX","v":190},{"d":"2021-12-27","k":"SPX","v":201.7},
{"d":"2022-01-27","k":"SPX","v":182.1},{"d":"2022-02-09","k":"SPX","v":193},{"d":"2022-02-24","k":"SPX","v":179},{"d":"2022-03-04","k":"SPX","v":182.16},

{"d":"2017-03-06","k":"IT","v":100},{"d":"2017-04-01","k":"IT","v":104},{"d":"2017-05-01","k":"IT","v":109},{"d":"2017-06-01","k":"IT","v":113},{"d":"2017-07-01","k":"IT","v":109},{"d":"2017-08-01","k":"IT","v":114},{"d":"2017-09-01","k":"IT","v":115},{"d":"2017-10-01","k":"IT","v":118},{"d":"2017-11-01","k":"IT","v":125},{"d":"2017-12-01","k":"IT","v":126},
{"d":"2018-01-01","k":"IT","v":128},{"d":"2018-01-26","k":"IT","v":140},{"d":"2018-02-09","k":"IT","v":125},{"d":"2018-03-01","k":"IT","v":133},{"d":"2018-04-01","k":"IT","v":127},{"d":"2018-05-01","k":"IT","v":132},{"d":"2018-06-01","k":"IT","v":138},{"d":"2018-07-01","k":"IT","v":137},{"d":"2018-08-01","k":"IT","v":143},{"d":"2018-09-01","k":"IT","v":150},{"d":"2018-10-01","k":"IT","v":150},{"d":"2018-11-01","k":"IT","v":136},{"d":"2018-12-01","k":"IT","v":140},{"d":"2018-12-24","k":"IT","v":117},
{"d":"2019-02-01","k":"IT","v":134},{"d":"2019-03-01","k":"IT","v":142},{"d":"2019-04-01","k":"IT","v":148},{"d":"2019-05-01","k":"IT","v":155},{"d":"2019-06-03","k":"IT","v":140},{"d":"2019-07-01","k":"IT","v":157},{"d":"2019-08-01","k":"IT","v":159},{"d":"2019-09-01","k":"IT","v":156},{"d":"2019-10-01","k":"IT","v":161},{"d":"2019-11-01","k":"IT","v":170},{"d":"2019-12-01","k":"IT","v":175},
{"d":"2020-01-01","k":"IT","v":188},{"d":"2020-02-19","k":"IT","v":203},{"d":"2020-03-23","k":"IT","v":137},{"d":"2020-04-15","k":"IT","v":175},{"d":"2020-05-15","k":"IT","v":183},{"d":"2020-06-08","k":"IT","v":199},{"d":"2020-07-01","k":"IT","v":205},{"d":"2020-08-01","k":"IT","v":222},{"d":"2020-09-02","k":"IT","v":255},{"d":"2020-09-23","k":"IT","v":219},{"d":"2020-10-12","k":"IT","v":244},{"d":"2020-10-30","k":"IT","v":218},{"d":"2020-12-01","k":"IT","v":247},
{"d":"2021-01-01","k":"IT","v":256},{"d":"2021-02-12","k":"IT","v":271},{"d":"2021-03-08","k":"IT","v":245},{"d":"2021-04-15","k":"IT","v":279},{"d":"2021-05-12","k":"IT","v":261},{"d":"2021-06-01","k":"IT","v":272},{"d":"2021-07-01","k":"IT","v":291},{"d":"2021-08-01","k":"IT","v":298},{"d":"2021-09-02","k":"IT","v":313},{"d":"2021-10-04","k":"IT","v":292},{"d":"2021-11-01","k":"IT","v":316},{"d":"2021-12-01","k":"IT","v":328},{"d":"2021-12-27","k":"IT","v":349},
{"d":"2022-01-27","k":"IT","v":300},{"d":"2022-02-09","k":"IT","v":320},{"d":"2022-02-24","k":"IT","v":289},{"d":"2022-03-04","k":"IT","v":295.18}
 ]
},
"resolve": {"axis": {"x": "independent", "y": "independent"}},
"layer": [
 {
  "data": {"name": "series"},
  "transform": [{"lookup": "k", "from": {"data": {"name": "names"}, "key": "k", "fields": ["name"]}}],
  "mark": {"type": "line", "strokeWidth": 2.4, "strokeJoin": "round"},
  "encoding": {
   "x": {"field": "d", "type": "temporal", "scale": {"type": "utc", "domain": [{"year": 2017, "month": 3, "date": 6, "utc": true}, {"year": 2022, "month": 12, "date": 23, "utc": true}]},
    "axis": {"orient": "bottom", "values": [{"year": 2017, "month": 8, "date": 3, "utc": true}, {"year": 2018, "month": 7, "date": 2, "utc": true}, {"year": 2019, "month": 7, "date": 2, "utc": true}, {"year": 2020, "month": 7, "date": 2, "utc": true}, {"year": 2021, "month": 7, "date": 2, "utc": true}, {"year": 2022, "month": 6, "date": 28, "utc": true}], "format": "%Y", "ticks": false, "domain": true, "domainColor": "#7a7a7a", "labelPadding": 34, "labelBaseline": "middle", "labelFont": "DejaVu Sans Condensed, Liberation Sans, sans-serif", "labelFontSize": 17, "labelColor": "#d6d6d6", "labelFlush": false, "labelOverlap": false, "title": null}},
   "y": {"field": "v", "type": "quantitative", "scale": {"domain": [17, 389.1], "nice": false, "zero": false},
    "axis": {"orient": "right", "values": [25, 50, 75, 100, 125, 150, 175, 200, 225, 250, 275, 300, 325, 350, 375], "labelExpr": "datum.value % 50 === 0 ? datum.label : ''", "tickSize": 5, "tickColor": "#bdbdbd", "domain": true, "domainColor": "#8a8a8a", "labelColor": "#d6d6d6", "labelFont": "DejaVu Sans Condensed, Liberation Sans, sans-serif", "labelFontSize": 15, "labelPadding": 2, "title": "©2022 Crescat Capital LLC", "titleAngle": 0, "titleX": 77, "titleY": 680, "titleAlign": "right", "titleBaseline": "alphabetic", "titleFont": "Open Sans", "titleFontWeight": "bold", "titleFontSize": 17, "titleColor": "#ffffff"}},
   "stroke": {"field": "name", "type": "nominal",
    "scale": {"domain": ["S&P 500 Index - Last Price", "Industrials", "Consumer Discretionary", "Utilities", "Financials", "Consumer Staples", "Health Care", "Information Technology", "Energy", "Materials", "REITS", "Communication Services"],
     "range": ["#ffffff", "#eba03c", "#e8459c", "#b283f0", "#e046ea", "#8a8a8a", "#e47a38", "#4fa1f2", "#e5332a", "#dcc23e", "#45e045", "#ec7430"]},
    "legend": {"title": "Normalized As Of 03/06/2017", "orient": "none", "legendX": 25, "legendY": 76, "symbolType": "square", "symbolSize": 100, "symbolStrokeWidth": 0}}
  }
 },
 {
  "data": {"name": "notes"},
  "mark": {"type": "text", "font": "Open Sans", "fontWeight": "bold", "fontSize": 13, "fill": "#eee24a", "align": "center", "baseline": "middle"},
  "encoding": {
   "x": {"field": "d", "type": "temporal", "scale": {"type": "utc", "domain": [{"year": 2017, "month": 3, "date": 6, "utc": true}, {"year": 2022, "month": 12, "date": 23, "utc": true}]},
    "axis": {"orient": "bottom", "values": [{"year": 2018, "month": 1, "date": 1, "utc": true}, {"year": 2019, "month": 1, "date": 1, "utc": true}, {"year": 2020, "month": 1, "date": 1, "utc": true}, {"year": 2021, "month": 1, "date": 1, "utc": true}, {"year": 2022, "month": 1, "date": 1, "utc": true}], "labels": false, "ticks": true, "tickSize": 46, "tickColor": "#5a5a5a", "tickWidth": 1, "domain": false, "title": null}},
   "y": {"field": "v", "type": "quantitative", "scale": {"domain": [17, 389.1], "nice": false, "zero": false},
    "axis": {"orient": "left", "domain": true, "domainColor": "#9a9a9a", "ticks": false, "labels": false, "title": null}},
   "text": {"field": "t"}
  }
 },
 {
  "data": {"name": "arrows"},
  "mark": {"type": "rule", "color": "#f5e531", "strokeWidth": 3},
  "encoding": {
   "x": {"field": "d", "type": "temporal", "scale": {"type": "utc", "domain": [{"year": 2017, "month": 3, "date": 6, "utc": true}, {"year": 2022, "month": 12, "date": 23, "utc": true}]},
    "axis": {"orient": "bottom", "values": [{"year": 2017, "month": 4, "date": 1, "utc": true}, {"year": 2017, "month": 7, "date": 1, "utc": true}, {"year": 2017, "month": 10, "date": 1, "utc": true}, {"year": 2018, "month": 4, "date": 1, "utc": true}, {"year": 2018, "month": 7, "date": 1, "utc": true}, {"year": 2018, "month": 10, "date": 1, "utc": true}, {"year": 2019, "month": 4, "date": 1, "utc": true}, {"year": 2019, "month": 7, "date": 1, "utc": true}, {"year": 2019, "month": 10, "date": 1, "utc": true}, {"year": 2020, "month": 4, "date": 1, "utc": true}, {"year": 2020, "month": 7, "date": 1, "utc": true}, {"year": 2020, "month": 10, "date": 1, "utc": true}, {"year": 2021, "month": 4, "date": 1, "utc": true}, {"year": 2021, "month": 7, "date": 1, "utc": true}, {"year": 2021, "month": 10, "date": 1, "utc": true}, {"year": 2022, "month": 4, "date": 1, "utc": true}, {"year": 2022, "month": 7, "date": 1, "utc": true}, {"year": 2022, "month": 10, "date": 1, "utc": true}], "labels": false, "ticks": true, "tickSize": 4, "tickColor": "#9a9a9a", "domain": false, "title": null}},
   "x2": {"field": "d2"},
   "y": {"field": "v", "type": "quantitative", "scale": {"domain": [17, 389.1], "nice": false, "zero": false}, "axis": null},
   "y2": {"field": "v2"}
  }
 },
 {
  "data": {"name": "head1"},
  "mark": {"type": "point", "shape": "triangle", "filled": true, "opacity": 1, "size": 110, "angle": 168, "color": "#f5e531"},
  "encoding": {
   "x": {"field": "d", "type": "temporal", "scale": {"type": "utc", "domain": [{"year": 2017, "month": 3, "date": 6, "utc": true}, {"year": 2022, "month": 12, "date": 23, "utc": true}]},
    "axis": {"orient": "bottom", "offset": 51, "domain": true, "domainColor": "#3a3a3a", "ticks": false, "labels": false, "title": "Source: Bloomberg", "titleFont": "Open Sans", "titleFontWeight": "bold", "titleFontSize": 17, "titleColor": "#ffffff", "titleAnchor": "start", "titleAlign": "left", "titleBaseline": "alphabetic", "titleX": 4, "titleY": 20}},
   "y": {"field": "v", "type": "quantitative", "scale": {"domain": [17, 389.1], "nice": false, "zero": false}, "axis": null}
  }
 },
 {
  "data": {"name": "head2"},
  "mark": {"type": "point", "shape": "triangle", "filled": true, "opacity": 1, "size": 110, "angle": 23, "color": "#f5e531"},
  "encoding": {
   "x": {"field": "d", "type": "temporal", "scale": {"type": "utc", "domain": [{"year": 2017, "month": 3, "date": 6, "utc": true}, {"year": 2022, "month": 12, "date": 23, "utc": true}]}, "axis": null},
   "y": {"field": "v", "type": "quantitative", "scale": {"domain": [17, 389.1], "nice": false, "zero": false}, "axis": null}
  }
 },
 {
  "data": {"name": "tags"},
  "transform": [{"filter": {"field": "name", "oneOf": ["Health Care", "Materials", "Communication Services"]}}],
  "mark": {"type": "point", "shape": "M-1,0L-0.9,-0.22L1,-0.22L1,0.22L-0.9,0.22Z", "size": 6400, "filled": true, "opacity": 1, "strokeWidth": 0, "xOffset": 41},
  "encoding": {
   "x": {"value": "width"},
   "y": {"field": "v", "type": "quantitative", "scale": {"domain": [17, 389.1], "nice": false, "zero": false}, "axis": null},
   "color": {"field": "name", "type": "nominal",
    "scale": {"domain": ["S&P 500 Index - Last Price", "Industrials", "Consumer Discretionary", "Utilities", "Financials", "Consumer Staples", "Health Care", "Information Technology", "Energy", "Materials", "REITS", "Communication Services"],
     "range": ["#ffffff", "#eba03c", "#e8459c", "#b283f0", "#e046ea", "#8a8a8a", "#e47a38", "#4fa1f2", "#e5332a", "#dcc23e", "#45e045", "#ec7430"]},
    "legend": {"title": "Normalized As Of 03/06/2017", "orient": "none", "legendX": 25, "legendY": 76, "symbolType": "square", "symbolSize": 100, "symbolStrokeWidth": 0}}
  }
 },
 {
  "data": {"name": "tags"},
  "transform": [{"filter": {"field": "name", "oneOf": ["Health Care", "Materials", "Communication Services"]}}],
  "mark": {"type": "text", "xOffset": 42, "align": "center", "baseline": "middle", "font": "DejaVu Sans Condensed, Liberation Sans, sans-serif", "fontSize": 16},
  "encoding": {
   "x": {"value": "width"},
   "y": {"field": "v", "type": "quantitative", "scale": {"domain": [17, 389.1], "nice": false, "zero": false}, "axis": null},
   "text": {"field": "label"},
   "fill": {"field": "name", "type": "nominal", "legend": null,
    "scale": {"domain": ["Information Technology", "Consumer Discretionary", "S&P 500 Index - Last Price", "Health Care", "Materials", "Industrials", "Utilities", "Communication Services", "Energy"],
     "range": ["#10204a", "#ffffff", "#111111", "#3a1600", "#3a3000", "#2b1800", "#1b1b4a", "#3a1600", "#ffffff"]}}
  }
 },
 {
  "data": {"name": "tags"},
  "transform": [{"filter": {"not": {"field": "name", "oneOf": ["Health Care", "Materials", "Communication Services"]}}}],
  "mark": {"type": "point", "shape": "M-1,0L-0.9,-0.22L1,-0.22L1,0.22L-0.9,0.22Z", "size": 6400, "filled": true, "opacity": 1, "strokeWidth": 0, "xOffset": 41},
  "encoding": {
   "x": {"value": "width"},
   "y": {"field": "v", "type": "quantitative", "scale": {"domain": [17, 389.1], "nice": false, "zero": false}, "axis": null},
   "color": {"field": "name", "type": "nominal",
    "scale": {"domain": ["S&P 500 Index - Last Price", "Industrials", "Consumer Discretionary", "Utilities", "Financials", "Consumer Staples", "Health Care", "Information Technology", "Energy", "Materials", "REITS", "Communication Services"],
     "range": ["#ffffff", "#eba03c", "#e8459c", "#b283f0", "#e046ea", "#8a8a8a", "#e47a38", "#4fa1f2", "#e5332a", "#dcc23e", "#45e045", "#ec7430"]},
    "legend": {"title": "Normalized As Of 03/06/2017", "orient": "none", "legendX": 25, "legendY": 76, "symbolType": "square", "symbolSize": 100, "symbolStrokeWidth": 0}}
  }
 },
 {
  "data": {"name": "tags"},
  "transform": [{"filter": {"not": {"field": "name", "oneOf": ["Health Care", "Materials", "Communication Services"]}}}],
  "mark": {"type": "text", "xOffset": 42, "align": "center", "baseline": "middle", "font": "DejaVu Sans Condensed, Liberation Sans, sans-serif", "fontSize": 16},
  "encoding": {
   "x": {"value": "width"},
   "y": {"field": "v", "type": "quantitative", "scale": {"domain": [17, 389.1], "nice": false, "zero": false}, "axis": null},
   "text": {"field": "label"},
   "fill": {"field": "name", "type": "nominal", "legend": null,
    "scale": {"domain": ["Information Technology", "Consumer Discretionary", "S&P 500 Index - Last Price", "Health Care", "Materials", "Industrials", "Utilities", "Communication Services", "Energy"],
     "range": ["#10204a", "#ffffff", "#111111", "#3a1600", "#3a3000", "#2b1800", "#1b1b4a", "#3a1600", "#ffffff"]}}
  }
 }
]
}
